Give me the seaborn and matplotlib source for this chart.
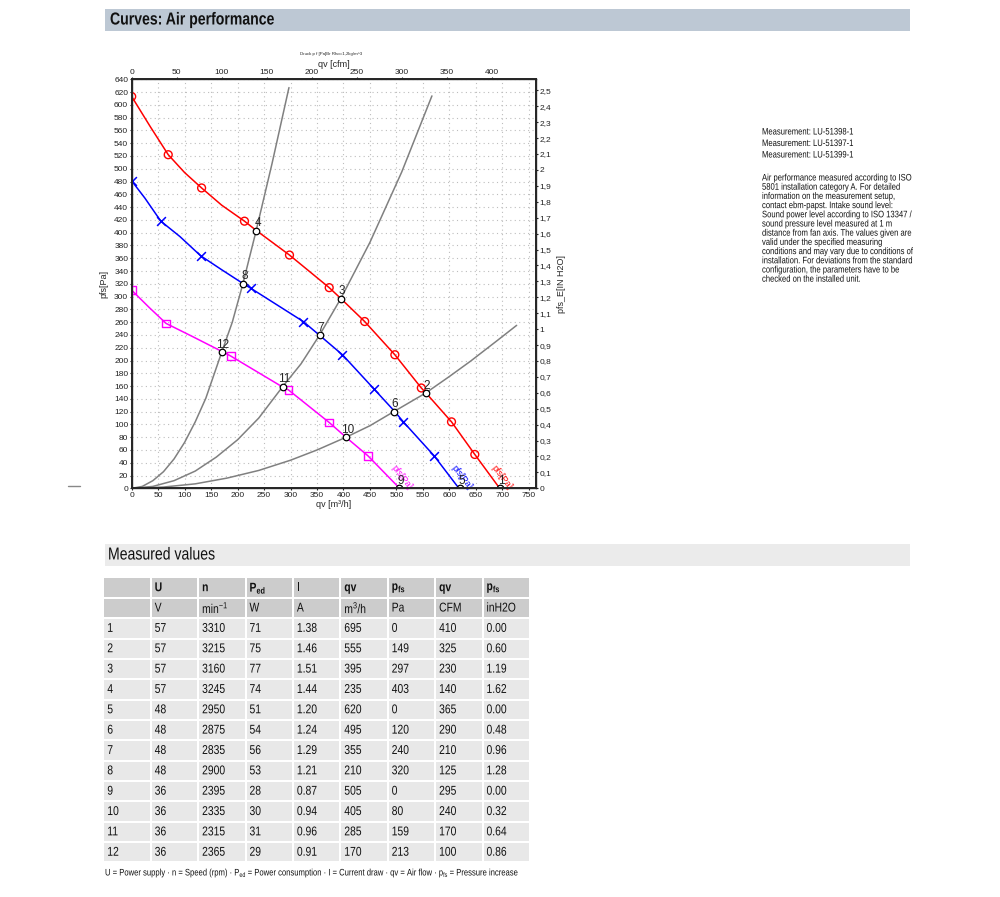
import numpy as np
import pandas as pd
import seaborn as sns
import matplotlib.pyplot as plt
from matplotlib.patches import Rectangle
from matplotlib.patheffects import AbstractPathEffect
from matplotlib.transforms import Affine2D

# fan curves (qv in m3/h, pfs in Pa)
red_qv = [0, 35, 69, 100, 132, 170, 213, 236, 298, 373, 395, 440, 497, 547, 556, 604, 648, 695]
red_pf = [613, 566, 522, 494, 470, 443, 418, 403, 365, 314, 297, 261, 209, 157, 149, 104, 53, 0]
red_mk_qv = [0, 69, 132, 213, 298, 373, 440, 497, 547, 604, 648]
red_mk_pf = [613, 522, 470, 418, 365, 314, 261, 209, 157, 104, 53]

blue_qv = [0, 25, 55, 91, 130, 170, 211, 225, 324, 354, 398, 457, 497, 513, 571, 618]
blue_pf = [481, 454, 418, 394, 364, 342, 320, 313, 261, 240, 209, 156, 120, 104, 51, 0]
blue_mk_qv = [0, 55, 130, 225, 324, 398, 457, 513, 571]
blue_mk_pf = [481, 418, 364, 313, 261, 209, 156, 104, 51]

mag_qv = [0, 33, 65, 116, 173, 187, 286, 296, 373, 406, 446, 506]
mag_pf = [310, 283, 258, 237, 213, 207, 158, 154, 103, 79, 51, 0]
mag_mk_qv = [0, 65, 187, 296, 373, 446]
mag_mk_pf = [310, 258, 207, 154, 103, 51]

# system curves (grey)
sysa_qv = [0, 20, 40, 60, 80, 100, 120, 140, 170, 190, 210, 235, 265, 297]
sysa_pf = [0, 3, 12, 26, 46, 72, 104, 141, 213, 260, 320, 403, 508, 627]
sysb_qv = [0, 40, 80, 120, 160, 200, 240, 285, 320, 355, 395, 450, 510, 567]
sysb_pf = [0, 3, 12, 27, 49, 76, 110, 159, 195, 240, 297, 385, 495, 614]
sysc_qv = [0, 60, 120, 180, 240, 300, 350, 405, 450, 495, 555, 600, 640, 690, 727]
sysc_pf = [0, 2, 7, 16, 28, 44, 60, 80, 98, 120, 149, 175, 199, 231, 255]

# measured values table
pt_no = list(range(1, 13))
U = [57, 57, 57, 57, 48, 48, 48, 48, 36, 36, 36, 36]
n_rpm = [3310, 3215, 3160, 3245, 2950, 2875, 2835, 2900, 2395, 2335, 2315, 2365]
P_ed = [71, 75, 77, 74, 51, 54, 56, 53, 28, 30, 31, 29]
I_amp = ["1.38", "1.46", "1.51", "1.44", "1.20", "1.24", "1.29", "1.21", "0.87", "0.94", "0.96", "0.91"]
qv_m3h = [695, 555, 395, 235, 620, 495, 355, 210, 505, 405, 285, 170]
pfs_pa = [0, 149, 297, 403, 0, 120, 240, 320, 0, 80, 159, 213]
qv_cfm = [410, 325, 230, 140, 365, 290, 210, 125, 295, 240, 170, 100]
pfs_in = ["0.00", "0.60", "1.19", "1.62", "0.00", "0.48", "0.96", "1.28", "0.00", "0.32", "0.64", "0.86"]

head_names = ["", "U", "n", r"P$_{\mathbf{ed}}$", "I", "qv", r"p$_{\mathbf{fs}}$", "qv", r"p$_{\mathbf{fs}}$"]
head_units = ["", "V", "min$^{-1}$", "W", "A", "m$^3$/h", "Pa", "CFM", "inH2O"]

measurements = ["Measurement: LU-51398-1", "Measurement: LU-51397-1", "Measurement: LU-51399-1"]
note_lines = [
    "Air performance measured according to ISO",
    "5801 installation category A. For detailed",
    "information on the measurement setup,",
    "contact ebm-papst. Intake sound level:",
    "Sound power level according to ISO 13347 /",
    "sound pressure level measured at 1 m",
    "distance from fan axis. The values given are",
    "valid under the specified measuring",
    "conditions and may vary due to conditions of",
    "installation. For deviations from the standard",
    "configuration, the parameters have to be",
    "checked on the installed unit.",
]


class Squeeze(AbstractPathEffect):
    # narrow the glyphs horizontally around the left anchor (display px)
    def __init__(self, x0, sx=0.81):
        super().__init__()
        self.x0 = x0
        self.sx = sx

    def draw_path(self, renderer, gc, tpath, affine, rgbFace=None):
        t = affine + Affine2D().translate(-self.x0, 0).scale(self.sx, 1).translate(self.x0, 0)
        renderer.draw_path(gc, tpath, t, rgbFace)


sns.set_theme(style="ticks")
plt.rcParams['font.family'] = ['Liberation Sans', 'DejaVu Sans']
plt.rcParams['mathtext.fontset'] = 'custom'
plt.rcParams['mathtext.rm'] = 'Liberation Sans'
plt.rcParams['mathtext.bf'] = 'Liberation Sans:bold'
plt.rcParams['mathtext.default'] = 'regular'

fig = plt.figure(figsize=(10, 8.97), dpi=100)

# page overlay in pixel coordinates
pg = fig.add_axes([0, 0, 1, 1])
pg.set_xlim(0, 1000)
pg.set_ylim(897, 0)
pg.axis("off")


def ptext(x, y, s, size, **kw):
    pg.text(x, y, s, fontsize=size, va="center", color="#111111",
            path_effects=[Squeeze(x)], **kw)


pg.add_patch(Rectangle((105, 9), 805, 22, color="#bdc8d4", lw=0))
ptext(110, 20, "Curves: Air performance", 12.5, fontweight="bold")
pg.add_patch(Rectangle((105, 544), 805, 22, color="#ebebeb", lw=0))
ptext(108, 555, "Measured values", 12.5)
pg.plot([68, 80], [486, 486], color="#888888", lw=1)
pg.text(331, 54, "Druck p f [Pa]Br Rho=1,2kg/m^3", fontsize=3.2, ha="center", va="center")

for i, s in enumerate(measurements):
    ptext(762, 132 + i * 11.5, s, 6.8)
for i, s in enumerate(note_lines):
    ptext(762, 178 + i * 9.2, s, 6.8)

# table
col_w = 47.4
x0 = 103.3
rows = [head_names, head_units]
for k in range(12):
    rows.append([str(pt_no[k]), str(U[k]), str(n_rpm[k]), str(P_ed[k]), I_amp[k],
                 str(qv_m3h[k]), str(pfs_pa[k]), str(qv_cfm[k]), pfs_in[k]])
row_h = 20.35
y0 = 577.5
for r, row in enumerate(rows):
    fc = "#cccccc" if r < 2 else "#e8e8e8"
    for c, val in enumerate(row):
        cx = x0 + c * col_w
        cy = y0 + r * row_h
        pg.add_patch(Rectangle((cx + 1, cy + 1), col_w - 2, row_h - 2, color=fc, lw=0))
        ptext(cx + 4, cy + row_h / 2 + 0.5, val, 9.2,
              fontweight="bold" if r == 0 else "normal")
ptext(105, 873, r"U = Power supply · n = Speed (rpm) · P$_{ed}$ = Power consumption · I = Current draw"
      r" · qv = Air flow · p$_{fs}$ = Pressure increase", 6.8)

# chart
ax = fig.add_axes([0.1317, 0.4556, 0.404, 0.4560])
xmax, ymax = 763, 640
for q, p in [(sysa_qv, sysa_pf), (sysb_qv, sysb_pf), (sysc_qv, sysc_pf)]:
    sns.lineplot(x=q, y=p, ax=ax, color="#808080", lw=1.1, sort=False, estimator=None)

curves = [
    (red_qv, red_pf, red_mk_qv, red_mk_pf, "#ff0000", "o"),
    (blue_qv, blue_pf, blue_mk_qv, blue_mk_pf, "#0000ff", "x"),
    (mag_qv, mag_pf, mag_mk_qv, mag_mk_pf, "#ff00ff", "s"),
]
for q, p, mq, mp, col, mk in curves:
    sns.lineplot(x=q, y=p, ax=ax, color=col, lw=1.1, sort=False, estimator=None)
    if mk == "x":
        sns.scatterplot(x=mq, y=mp, ax=ax, marker="x", color=col, s=40, linewidth=1.1, zorder=4)
    else:
        sns.scatterplot(x=mq, y=mp, ax=ax, marker=mk, facecolor="none", edgecolor=col,
                        s=32, linewidth=1.0, zorder=4)

pts = pd.DataFrame({"qv": qv_m3h, "pfs": pfs_pa, "no": pt_no})
sns.scatterplot(data=pts, x="qv", y="pfs", ax=ax, marker="o", facecolor="white",
                edgecolor="black", s=22, linewidth=0.9, zorder=5)
for _, r in pts.iterrows():
    ax.annotate(str(r["no"]), (r["qv"], r["pfs"]), xytext=(1, 1), textcoords="offset points",
                ha="center", va="bottom", fontsize=8.5, zorder=6)

for xq, col in [(698, "#ff0000"), (623, "#0000ff"), (510, "#ff00ff")]:
    ax.text(xq, 18, "pfs[Pa]", color=col, fontsize=6.5, rotation=-52, ha="center", va="center")

ax.set_xlim(0, xmax)
ax.set_ylim(0, ymax)
ax.set_xticks(np.arange(0, 751, 50))
ax.set_yticks(np.arange(0, 641, 20))
ax.grid(True, color="#bdbdbd", linestyle=(0, (1, 3)), lw=0.8)
ax.tick_params(labelsize=6, length=1.5, width=0.8, pad=1, colors="#222222")
ax.set_xlabel("qv [m³/h]", fontsize=6.5, labelpad=1)
ax.set_ylabel("pfs[Pa]", fontsize=6.5)
ax.yaxis.set_label_coords(-0.057, 0.5)
for sp in ax.spines.values():
    sp.set_linewidth(1.0)
    sp.set_color("#333333")

ax2 = ax.twinx()
ax2.set_ylim(0, ymax / 249.09)
rt = np.arange(0, 26) / 10
ax2.set_yticks(rt)
ax2.set_yticklabels([("%.1f" % v).rstrip("0").rstrip(".").replace(".", ",") for v in rt])
ax2.tick_params(labelsize=6, length=1.5, width=0.8, pad=1, colors="#222222")
ax2.set_ylabel("pfs_E[IN H2O]", fontsize=6.5)
ax2.yaxis.set_label_coords(1.052, 0.5)

ax3 = ax.twiny()
ax3.set_xlim(0, xmax / 1.699)
ax3.set_xticks(np.arange(0, 401, 50))
ax3.tick_params(labelsize=6, length=1.5, width=0.8, pad=1, colors="#222222")
ax3.set_xlabel("qv [cfm]", fontsize=6.5, labelpad=1)

fig.savefig("out.png", dpi=100)
